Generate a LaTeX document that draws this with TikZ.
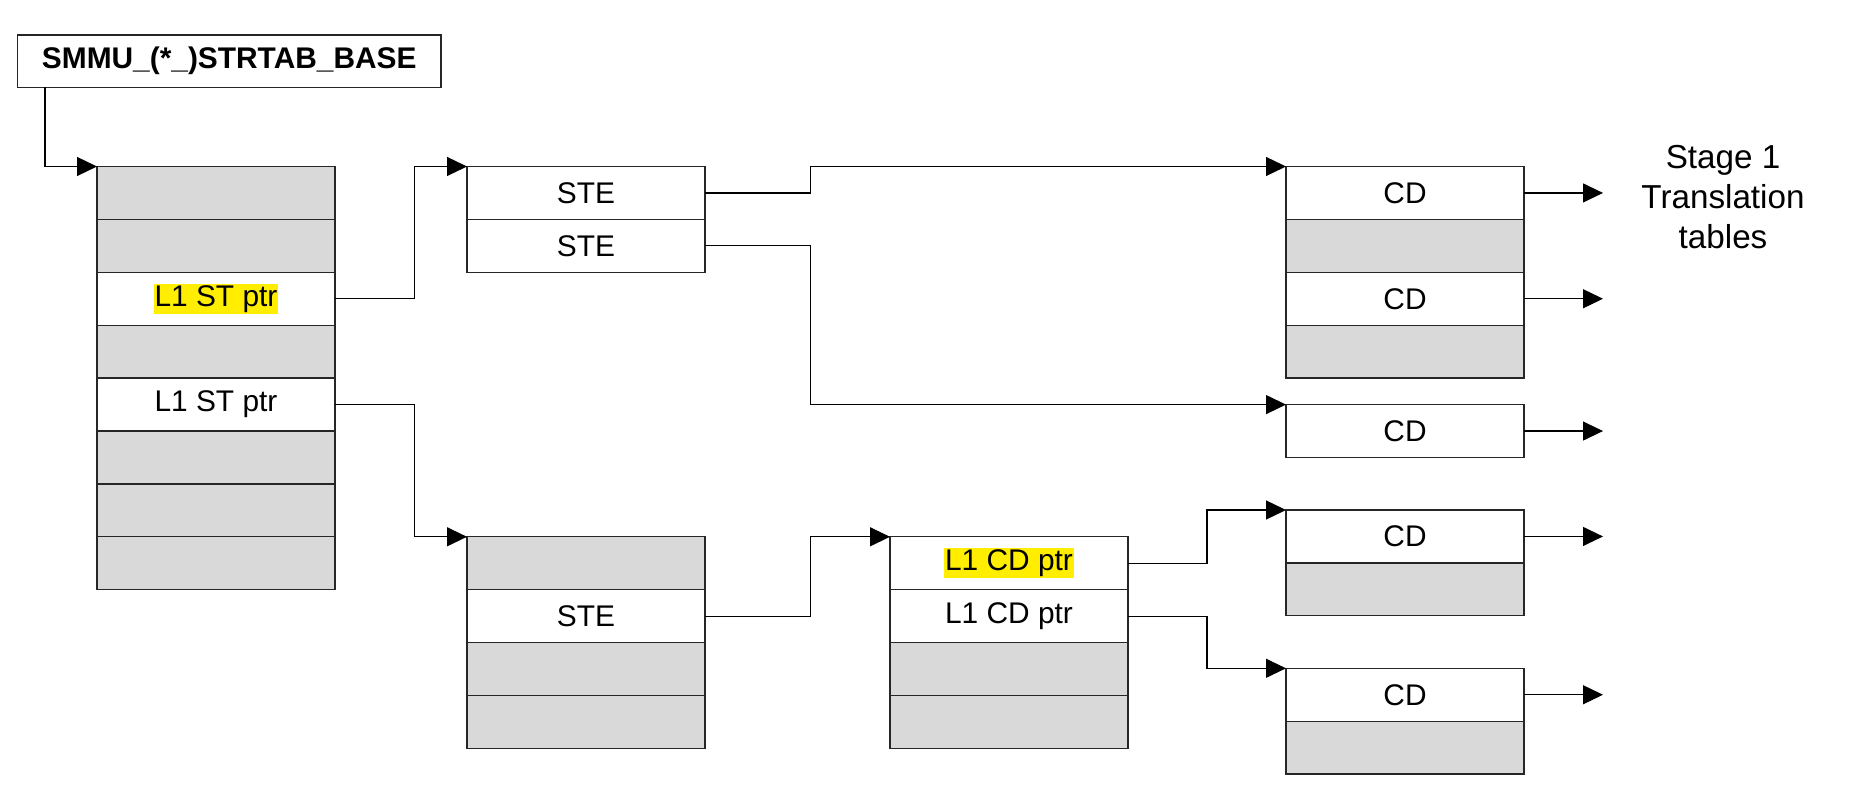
\documentclass[tikz,border=0pt]{standalone}
\usepackage{fontspec}
\setmainfont{Liberation Sans}
\usepackage{xcolor}
\usetikzlibrary{arrows.meta, positioning}

\definecolor{cellgray}{RGB}{217,217,217}
\definecolor{hlyellow}{RGB}{255,238,0}
\newcommand{\hilite}[1]{{\setlength{\fboxsep}{0.5pt}\colorbox{hlyellow}{\rule[-0.23em]{0pt}{0.95em}#1}}}

\begin{document}
\begin{tikzpicture}[
    node distance=0pt,
    cell/.style={rectangle, draw=black!85, line width=0.7pt, fill=white, outer sep=0pt, inner sep=0pt, minimum width=4.76cm, minimum height=1.058cm, font=\fontsize{17}{20}\selectfont},
    empty/.style={cell, fill=cellgray},
    basebox/.style={cell, minimum width=8.47cm, minimum height=1.05cm, font=\fontsize{17}{20}\selectfont\bfseries},
    note/.style={align=center, inner sep=0pt, font=\fontsize{18.9}{22.8}\selectfont},
    line/.style={draw, line width=0.7pt, -{Triangle[length=0.4cm, width=0.38cm]}}
]
    \useasboundingbox (0,0) rectangle (37.04,-16.12);

    % Register
    \node (base) [basebox] at (4.585,-1.225) {SMMU\_(*\_)STRTAB\_BASE};

    % Level 1 stream table
    \node (st1) [empty, anchor=north west] at (1.94,-3.33) {};
    \node (st2) [empty, below=of st1] {};
    \node (st3) [cell, below=of st2] {\hilite{L1 ST ptr}};
    \node (st4) [empty, below=of st3] {};
    \node (st5) [cell, below=of st4] {L1 ST ptr};
    \node (st6) [empty, below=of st5] {};
    \node (st7) [empty, below=of st6] {};
    \node (st8) [empty, below=of st7] {};

    % Level 2 stream tables
    \node (ste1) [cell, right=2.64cm of st1] {STE};
    \node (ste2) [cell, below=of ste1] {STE};

    \node (lste1) [empty, right=2.64cm of st8] {};
    \node (lste2) [cell, below=of lste1] {STE};
    \node (lste3) [empty, below=of lste2] {};
    \node (lste4) [empty, below=of lste3] {};

    % Level 1 CD table
    \node (l1cd1) [cell, right=3.7cm of lste1] {\hilite{L1 CD ptr}};
    \node (l1cd2) [cell, below=of l1cd1] {L1 CD ptr};
    \node (l1cd3) [empty, below=of l1cd2] {};
    \node (l1cd4) [empty, below=of l1cd3] {};

    % Context descriptors
    \node (cda1) [cell, right=11.62cm of ste1] {CD};
    \node (cda2) [empty, below=of cda1] {};
    \node (cda3) [cell, below=of cda2] {CD};
    \node (cda4) [empty, below=of cda3] {};

    \node (cdb1) [cell, below=0.53cm of cda4] {CD};

    \node (cdc1) [cell, below=1.05cm of cdb1] {CD};
    \node (cdc2) [empty, below=of cdc1] {};

    \node (cdd1) [cell, below=1.05cm of cdc2] {CD};
    \node (cdd2) [empty, below=of cdd1] {};

    \node (stage) [note] at (34.46,-3.95) {Stage 1\\Translation\\tables};

    % Connectors
    \draw [line] ([xshift=0.55cm]base.south west) |- (st1.north west);

    \draw [line] (st3.east) -- ++(1.59cm,0) |- (ste1.north west);
    \draw [line] (st5.east) -- ++(1.59cm,0) |- (lste1.north west);

    \draw [line] (ste1.east) -- ++(2.11cm,0) |- (cda1.north west);
    \draw [line] (ste2.east) -- ++(2.11cm,0) |- (cdb1.north west);
    \draw [line] (lste2.east) -- ++(2.11cm,0) |- (l1cd1.north west);

    \draw [line] (l1cd1.east) -- ++(1.58cm,0) |- (cdc1.north west);
    \draw [line] (l1cd2.east) -- ++(1.58cm,0) |- (cdd1.north west);

    \foreach \c in {cda1,cda3,cdb1,cdc1,cdd1} {
        \coordinate (\c-out) at ([xshift=1.58cm]\c.east);
        \draw [line] (\c.east) -- (\c-out);
    }

\end{tikzpicture}
\end{document}
